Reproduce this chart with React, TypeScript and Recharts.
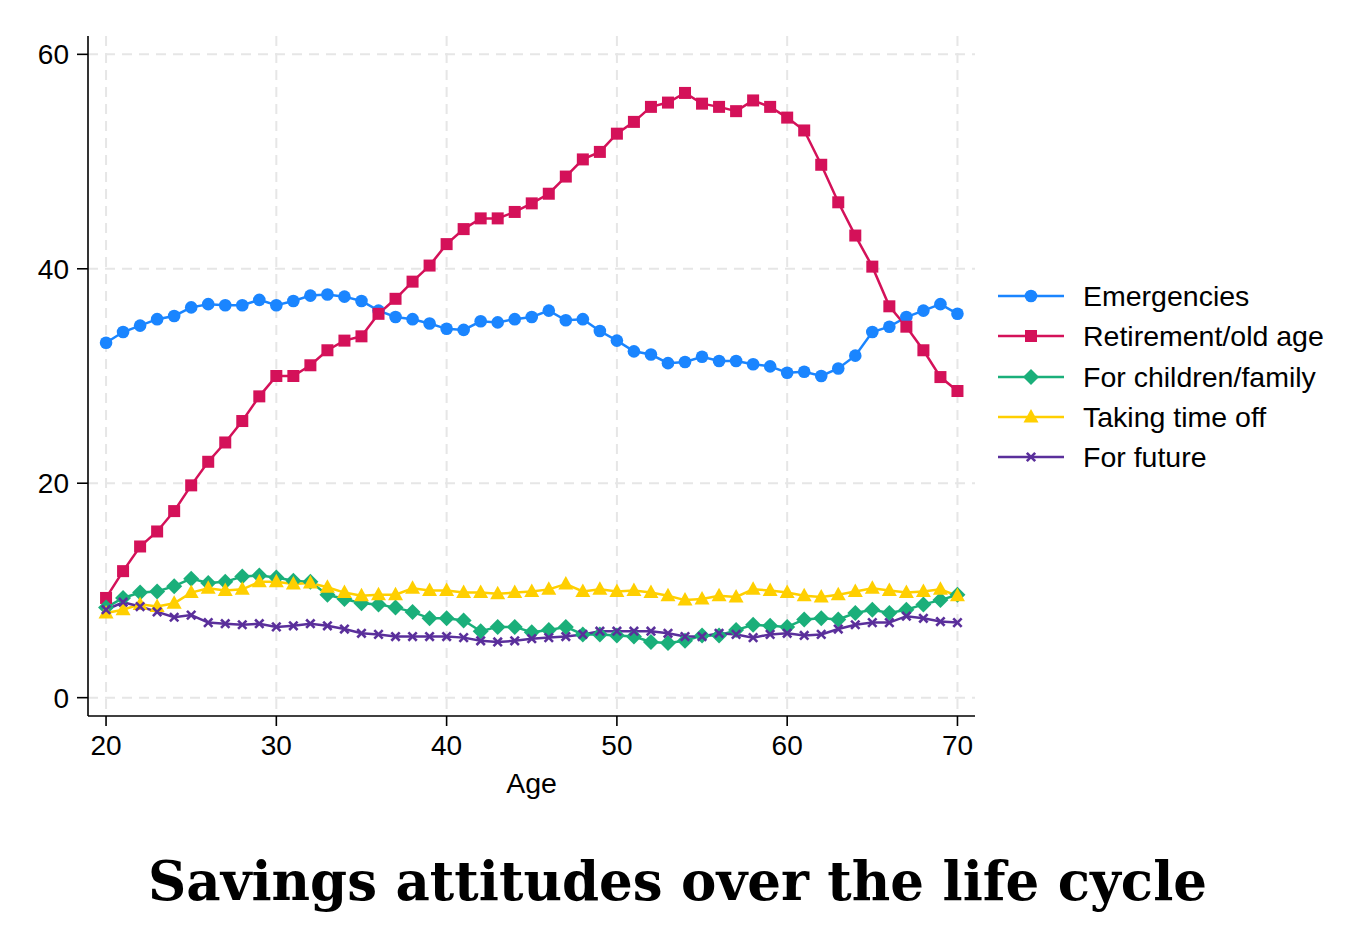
import React from 'react';
import { LineChart, Line, XAxis, YAxis, CartesianGrid } from 'recharts';

const ages = [
  20, 21, 22, 23, 24, 25, 26, 27, 28, 29, 30, 31, 32, 33, 34, 35, 36, 37, 38, 39, 40, 41, 42, 43, 44, 45,
  46, 47, 48, 49, 50, 51, 52, 53, 54, 55, 56, 57, 58, 59, 60, 61, 62, 63, 64, 65, 66, 67, 68, 69, 70,
];

const emergencies = [
  33.1, 34.1, 34.7, 35.3, 35.6, 36.4, 36.7, 36.6, 36.6, 37.1, 36.6, 37.0, 37.5, 37.6, 37.4, 37.0, 36.1,
  35.5, 35.3, 34.9, 34.4, 34.3, 35.1, 35.0, 35.3, 35.5, 36.1, 35.2, 35.3, 34.2, 33.3, 32.3, 32.0, 31.2,
  31.3, 31.8, 31.4, 31.4, 31.1, 30.9, 30.3, 30.4, 30.0, 30.7, 31.9, 34.1, 34.6, 35.5, 36.1, 36.7, 35.8,
];

const retirement = [
  9.3, 11.8, 14.1, 15.5, 17.4, 19.8, 22.0, 23.8, 25.8, 28.1, 30.0, 30.0, 31.0, 32.4, 33.3, 33.7, 35.8,
  37.2, 38.8, 40.3, 42.3, 43.7, 44.7, 44.7, 45.3, 46.1, 47.0, 48.6, 50.2, 50.9, 52.6, 53.7, 55.1, 55.5,
  56.4, 55.4, 55.1, 54.7, 55.7, 55.1, 54.1, 52.9, 49.7, 46.2, 43.1, 40.2, 36.5, 34.6, 32.4, 29.9, 28.6,
];

const children = [
  8.4, 9.3, 9.8, 9.9, 10.4, 11.1, 10.7, 10.8, 11.3, 11.4, 11.2, 10.9, 10.8, 9.6, 9.2, 8.8, 8.7, 8.4, 8.0,
  7.4, 7.4, 7.2, 6.2, 6.6, 6.6, 6.1, 6.3, 6.6, 5.9, 5.9, 5.8, 5.7, 5.2, 5.1, 5.3, 5.8, 5.8, 6.3, 6.8, 6.7,
  6.6, 7.3, 7.4, 7.3, 7.9, 8.2, 7.9, 8.2, 8.7, 9.1, 9.6,
];

const timeOff = [
  7.9, 8.2, 8.7, 8.5, 8.8, 9.8, 10.2, 10.0, 10.1, 10.8, 10.8, 10.6, 10.7, 10.3, 9.8, 9.5, 9.6, 9.6, 10.2,
  10.0, 10.0, 9.8, 9.8, 9.7, 9.8, 9.9, 10.1, 10.6, 9.9, 10.1, 9.9, 10.0, 9.8, 9.5, 9.1, 9.2, 9.5, 9.4,
  10.1, 10.0, 9.8, 9.5, 9.4, 9.6, 9.9, 10.2, 10.0, 9.8, 9.9, 10.1, 9.5,
];

const future = [
  8.2, 8.9, 8.5, 8.0, 7.5, 7.7, 7.0, 6.9, 6.8, 6.9, 6.6, 6.7, 6.9, 6.7, 6.4, 6.0, 5.9, 5.7, 5.7, 5.7, 5.7,
  5.6, 5.3, 5.2, 5.3, 5.5, 5.6, 5.7, 5.9, 6.2, 6.2, 6.2, 6.2, 6.0, 5.7, 5.7, 6.0, 5.9, 5.6, 5.9, 6.0, 5.8,
  5.9, 6.4, 6.8, 7.0, 7.0, 7.6, 7.4, 7.1, 7.0,
];

const xTicks = [20, 30, 40, 50, 60, 70];
const yTicks = [0, 20, 40, 60];

type Shape = 'circle' | 'square' | 'diamond' | 'triangle' | 'cross';

const seriesInfo: { key: string; name: string; color: string; shape: Shape }[] = [
  { key: 'emergencies', name: 'Emergencies', color: '#1a85ff', shape: 'circle' },
  { key: 'retirement', name: 'Retirement/old age', color: '#d41159', shape: 'square' },
  { key: 'children', name: 'For children/family', color: '#1aaf7a', shape: 'diamond' },
  { key: 'timeOff', name: 'Taking time off', color: '#ffcf00', shape: 'triangle' },
  { key: 'future', name: 'For future', color: '#5a2f9b', shape: 'cross' },
];

const data = ages.map((age, i) => ({
  age,
  emergencies: emergencies[i],
  retirement: retirement[i],
  children: children[i],
  timeOff: timeOff[i],
  future: future[i],
}));

const FONT = '"Liberation Sans", Arial, Helvetica, sans-serif';

const Marker = ({ shape, color, cx, cy }: { shape: Shape; color: string; cx: number; cy: number }) => {
  switch (shape) {
    case 'circle':
      return <circle cx={cx} cy={cy} r={6.3} fill={color} />;
    case 'square':
      return <rect x={cx - 6} y={cy - 6} width={12} height={12} fill={color} />;
    case 'diamond':
      return (
        <polygon
          points={`${cx},${cy - 8} ${cx + 8},${cy} ${cx},${cy + 8} ${cx - 8},${cy}`}
          fill={color}
        />
      );
    case 'triangle':
      return (
        <polygon
          points={`${cx},${cy - 8} ${cx + 7.5},${cy + 5.5} ${cx - 7.5},${cy + 5.5}`}
          fill={color}
        />
      );
    default:
      return (
        <g stroke={color} strokeWidth={2.6}>
          <line x1={cx - 4.2} y1={cy - 4.2} x2={cx + 4.2} y2={cy + 4.2} />
          <line x1={cx - 4.2} y1={cy + 4.2} x2={cx + 4.2} y2={cy - 4.2} />
        </g>
      );
  }
};

const makeDot = (shape: Shape, color: string) => (props: any) => {
  const { cx, cy, index } = props;
  if (cx == null || cy == null) return <g key={`d-${index}`} />;
  return (
    <g key={`d-${index}`}>
      <Marker shape={shape} color={color} cx={cx} cy={cy} />
    </g>
  );
};

const LegendBox = () => (
  <div style={{ position: 'absolute', left: 998, top: 276, fontFamily: FONT }}>
    {seriesInfo.map((s, i) => (
      <div
        key={s.key}
        style={{ position: 'absolute', top: i * 40.3, left: 0, height: 40, display: 'flex', alignItems: 'center', whiteSpace: 'nowrap' }}
      >
        <svg width={67} height={40} style={{ display: 'block' }}>
          <line x1={0} y1={20} x2={66} y2={20} stroke={s.color} strokeWidth={2.5} />
          <Marker shape={s.shape} color={s.color} cx={33} cy={20} />
        </svg>
        <span style={{ marginLeft: 18, fontSize: 28.5, color: '#000', lineHeight: '40px' }}>{s.name}</span>
      </div>
    ))}
  </div>
);

export default function App() {
  return (
    <div style={{ position: 'absolute', left: 0, top: 0, width: 1366, height: 937, background: '#fff' }}>
      <LineChart
        width={1366}
        height={800}
        data={data}
        margin={{ top: 36, right: 391, bottom: 0, left: 0 }}
        style={{ fontFamily: FONT }}
      >
        <CartesianGrid
          stroke="#e6e6e6"
          strokeWidth={2}
          strokeDasharray="10 7"
          horizontalValues={yTicks}
          verticalValues={xTicks}
        />
        <XAxis
          dataKey="age"
          type="number"
          domain={[18.94, 71.03]}
          ticks={xTicks}
          allowDataOverflow
          height={84}
          tickSize={10}
          tickMargin={9}
          axisLine={{ stroke: '#000', strokeWidth: 1.6 }}
          tickLine={{ stroke: '#000', strokeWidth: 1.6 }}
          tick={{ fill: '#000', fontSize: 28 }}
          label={{ value: 'Age', position: 'insideBottom', offset: 7, fill: '#000', fontSize: 28.5 }}
        />
        <YAxis
          type="number"
          domain={[-1.71, 61.71]}
          ticks={yTicks}
          allowDataOverflow
          width={88}
          tickSize={11}
          tickMargin={8}
          axisLine={{ stroke: '#000', strokeWidth: 1.6 }}
          tickLine={{ stroke: '#000', strokeWidth: 1.6 }}
          tick={{ fill: '#000', fontSize: 28 }}
        />
        {seriesInfo.map((s) => (
          <Line
            key={s.key}
            dataKey={s.key}
            name={s.name}
            type="linear"
            stroke={s.color}
            strokeWidth={2.5}
            dot={makeDot(s.shape, s.color)}
            activeDot={false}
            isAnimationActive={false}
          />
        ))}
      </LineChart>
      <LegendBox />
      <svg width={1366} height={100} style={{ position: 'absolute', left: 0, top: 840 }}>
        <text
          x={677.5}
          y={60}
          textAnchor="middle"
          textLength={1059}
          lengthAdjust="spacingAndGlyphs"
          fontFamily='"DejaVu Serif", serif'
          fontWeight="bold"
          fontSize={54}
          fill="#000"
        >
          Savings attitudes over the life cycle
        </text>
      </svg>
    </div>
  );
}
